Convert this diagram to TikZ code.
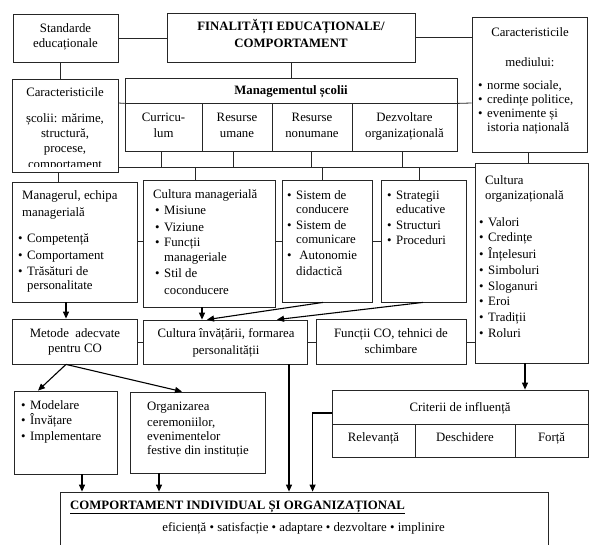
\documentclass[tikz,border=0pt]{standalone}
\usepackage{fontspec}
\setmainfont{Liberation Serif}
\usetikzlibrary{fit,arrows.meta}
\newcommand\itm{\makebox[9pt][l]{\textbullet}}
\newcommand\ind{\hspace*{9pt}}
\newcommand\TL[1]{\begin{tabular}[t]{@{}l@{}}#1\end{tabular}}
\newcommand\TC[1]{\begin{tabular}[t]{@{}c@{}}#1\end{tabular}}
\begin{document}
\begin{tikzpicture}[x=1pt,y=-1pt,
  bx/.style={draw=black!85, line width=0.8pt, inner sep=0pt, fit={#1}},
  txt/.style={inner sep=0pt, font=\fontsize{12.8}{14.5}\selectfont, anchor=base west},
  ctxt/.style={inner sep=0pt, font=\fontsize{12.8}{14.5}\selectfont, anchor=base},
  ln/.style={draw=black!85, line width=0.8pt},
  ar/.style={draw=black, line width=1.1pt, -{Triangle[length=7pt,width=6pt]}}
]
\useasboundingbox (0,0) rectangle (593,544);
\clip (0,0) rectangle (593,544);
\fill[white] (0,0) rectangle (593,544);

% helper coordinates
\coordinate (bus) at (0,167);
\coordinate (h103) at (0,103);
\coordinate (h241) at (0,241);
\coordinate (h342) at (0,342);
\coordinate (h413) at (0,413);

% boxes
\node[bx={(13,14) (118,62)}] (std) {};
\node[bx={(167,13) (415,62)}] (fin) {};
\node[bx={(472,17) (587,152)}] (med) {};
\node[bx={(12,79) (118,172)}] (csc) {};
\node[bx={(125,78) (457,103)}] (mh) {};
\node[bx={(125,103) (202,151)}] (c1) {};
\node[bx={(202,103) (272,151)}] (c2) {};
\node[bx={(272,103) (352,151)}] (c3) {};
\node[bx={(352,103) (457,151)}] (c4) {};
\node[bx={(12,182) (137,302)}] (mgr) {};
\node[bx={(143,180) (275,307)}] (cmg) {};
\node[bx={(282,180) (372,302)}] (sis) {};
\node[bx={(381,180) (466,302)}] (str) {};
\node[bx={(475,163) (588,363)}] (cor) {};
\node[bx={(12,319) (137,364)}] (met) {};
\node[bx={(143,320) (307,364)}] (cin) {};
\node[bx={(316,319) (466,364)}] (fun) {};
\node[bx={(332,390) (588,424)}] (crh) {};
\node[bx={(332,424) (415,457)}] (cr1) {};
\node[bx={(415,424) (515,457)}] (cr2) {};
\node[bx={(515,424) (588,457)}] (cr3) {};
\node[bx={(14,391) (117,474)}] (mod) {};
\node[bx={(130,392) (265,473)}] (org) {};
\node[bx={(60.5,492) (548,560)}] (cmp) {};

% texts
\node[ctxt] (stdT) at (65.5,32) {\TC{Standarde\\[0.5pt]educaționale}};
\node[ctxt, font=\fontsize{12.8}{14.5}\selectfont\bfseries] (finT) at (291,30) {\TC{FINALITĂȚI EDUCAȚIONALE/\\[2.5pt]COMPORTAMENT}};
\node[ctxt] (medT) at (530,36) {\TC{Caracteristicile\\[15.5pt]mediului:}};
\node[txt] (medL) at (478,89) {\TL{\itm norme sociale,\\[-0.5pt]\itm credințe politice,\\[-0.5pt]\itm evenimente și\\[0pt]\ind istoria națională}};
\begin{scope}
\clip (12,79) rectangle (118,166.5);
\node[ctxt] (cscT) at (65,96) {\TC{Caracteristicile\\[11.5pt]școlii: mărime,\\[0.5pt]structură,\\[0.5pt]procese,\\[2pt]comportament}};
\end{scope}
\node[ctxt, font=\fontsize{12.8}{14.5}\selectfont\bfseries] (mhT) at (291,94.5) {Managementul școlii};
\node[ctxt] (c1T) at (163.5,121) {\TC{Curricu-\\[1.5pt]lum}};
\node[ctxt] (c2T) at (237,121) {\TC{Resurse\\[1.5pt]umane}};
\node[ctxt] (c3T) at (312,121) {\TC{Resurse\\[1.5pt]nonumane}};
\node[ctxt] (c4T) at (404.5,121) {\TC{Dezvoltare\\[1.5pt]organizațională}};

\node[txt] (mgrA) at (22,199) {\TL{Managerul, echipa\\[2.5pt]managerială}};
\node[txt] (mgrL) at (18,242) {\TL{\itm Competență\\[2.5pt]\itm Comportament\\[1.5pt]\itm Trăsături de\\[-0.5pt]\ind personalitate}};
\node[txt] (cmgA) at (153,198) {Cultura managerială};
\node[txt] (cmgL) at (155,214) {\TL{\itm Misiune\\[2.5pt]\itm Viziune\\[0.5pt]\itm Funcții\\[0.5pt]\ind manageriale\\[1.5pt]\itm Stil de\\[2.5pt]\ind coconducere}};
\node[txt] (sisL) at (287,199) {\TL{\itm Sistem de\\[-0.5pt]\ind conducere\\[1.5pt]\itm Sistem de\\[-0.5pt]\ind comunicare\\[1.5pt]\itm\ Autonomie\\[1.5pt]\ind didactică}};
\node[txt] (strL) at (387,199) {\TL{\itm Strategii\\[-0.5pt]\ind educative\\[1.5pt]\itm Structuri\\[0.5pt]\itm Proceduri}};
\node[txt] (corA) at (485,184) {\TL{Cultura\\[0.5pt]organizațională}};
\node[txt] (corL) at (479,226) {\TL{\itm Valori\\[1.3pt]\itm Credințe\\[1.3pt]\itm Înțelesuri\\[1.3pt]\itm Simboluri\\[1.3pt]\itm Sloganuri\\[1.3pt]\itm Eroi\\[1.3pt]\itm Tradiții\\[1.3pt]\itm Roluri}};

\node[ctxt] (metT) at (75,337) {\TC{Metode\ \ adecvate\\[0.5pt]pentru CO}};
\node[ctxt] (cinT) at (226,337) {\TC{Cultura învățării, formarea\\[2.5pt]personalității}};
\node[ctxt] (funT) at (391,337) {\TC{Funcții CO, tehnici de\\[1.5pt]schimbare}};
\node[ctxt] (crhT) at (460,411) {Criterii de influență};
\node[ctxt] (cr1T) at (373.5,441) {Relevanță};
\node[ctxt] (cr2T) at (465,441) {Deschidere};
\node[ctxt] (cr3T) at (551.5,441) {Forță};
\node[txt] (modL) at (21,409) {\TL{\itm Modelare\\[0.5pt]\itm Învățare\\[1.5pt]\itm Implementare}};
\node[txt] (orgT) at (147,410) {\TL{Organizarea\\[1.5pt]ceremoniilor,\\[-0.5pt]evenimentelor\\[-0.5pt]festive din instituție}};
\node[txt, font=\fontsize{12.8}{14.5}\selectfont\bfseries] (cmpT) at (70,509) {\underline{COMPORTAMENT INDIVIDUAL ȘI ORGANIZAȚIONAL}};
\node[ctxt] (cmpL) at (303.5,531) {eficiență • satisfacție • adaptare • dezvoltare • implinire};

% connectors
\draw[ln] (std.east) -- (std.east -| fin.west);
\draw[ln] (fin.east) -- (fin.east -| med.west);
\draw[ln] ([xshift=-5pt]std.south) -- ([xshift=-5pt]std.south |- csc.north);
\draw[ln] (fin.south) -- (fin.south |- mh.north);
\draw[ln] (csc.east |- h103) -- (mh.south west);
\draw[ln] (mh.south east) -- (med.west |- h103);
\draw[ln] ([xshift=-1.5pt]med.south) -- ([xshift=-1.5pt]med.south |- cor.north);
\draw[ln] ([xshift=-2.5pt]c1.south) -- ([xshift=-2.5pt]c1.south |- bus);
\draw[ln] ([xshift=-4pt]c2.south) -- ([xshift=-4pt]c2.south |- bus);
\draw[ln] ([xshift=-1pt]c3.south) -- ([xshift=-1pt]c3.south |- bus);
\draw[ln] ([xshift=-2.5pt]c4.south) -- ([xshift=-2.5pt]c4.south |- bus);
\draw[ln] (csc.east |- bus) -- (cor.west |- bus);
\draw[ln] ([xshift=-14pt]cmg.north |- bus) -- ([xshift=-14pt]cmg.north);
\draw[ln] ([xshift=-5pt]sis.north |- bus) -- ([xshift=-5pt]sis.north);
\draw[ln] ([xshift=-4.5pt]str.north |- bus) -- ([xshift=-4.5pt]str.north);
\draw[ln] ([xshift=-7pt]csc.south) -- ([xshift=-7pt]csc.south |- mgr.north);
\draw[ln] (mgr.east |- h241) -- (cmg.west |- h241);
\draw[ln] (cmg.east |- h241) -- (sis.west |- h241);
\draw[ln] (sis.east |- h241) -- (str.west |- h241);
\draw[ln] (met.east |- h342) -- (cin.west |- h342);
\draw[ln] (cin.east |- h342) -- (fun.west |- h342);
\draw[ln] (fun.east |- h342) -- (cor.west |- h342);

\draw[ar] ([xshift=-8.5pt]mgr.south) -- ([xshift=-8.5pt]met.north);
\draw[ar] ([xshift=-7pt]cmg.south) -- ([xshift=-23pt]cin.north);
\draw[ar] ([xshift=-4pt]sis.south) -- ([xshift=-18pt]cin.north);
\draw[ar] ([xshift=-0.5pt]str.south) -- ([xshift=52pt]cin.north);
\draw[ar] ([xshift=-6.5pt]cor.south) -- ([xshift=-6.5pt]cor.south |- crh.north);
\draw[ar] ([xshift=-8.5pt]met.south) -- ([xshift=-27.5pt]mod.north);
\draw[ar] ([xshift=-8.5pt]met.south) -- ([xshift=-15.5pt]org.north);
\draw[ar] ([xshift=16.5pt]mod.south) -- ([xshift=16.5pt]mod.south |- cmp.north);
\draw[ar] ([xshift=-38.5pt]org.south) -- ([xshift=-38.5pt]org.south |- cmp.north);
\draw[ar] ([xshift=64pt]cin.south) -- ([xshift=64pt]cin.south |- cmp.north);
\draw[ar] (crh.west |- h413) -- ([xshift=-19pt]crh.west |- h413) -- ([xshift=-19pt]crh.west |- cmp.north);
\end{tikzpicture}
\end{document}
